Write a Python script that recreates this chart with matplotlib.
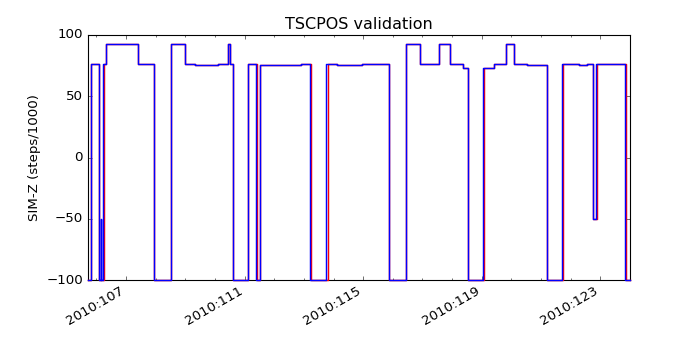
import matplotlib
matplotlib.use("Agg")
import matplotlib.pyplot as plt
from matplotlib.ticker import MultipleLocator, FixedLocator, FuncFormatter

# ── data: day-of-year 2010, step start times and SIM-Z level (steps/1000) ──
blue_t = [105.70, 105.83, 106.09, 106.15, 106.17, 106.22, 106.34, 107.41,
          107.95, 108.51, 108.98, 109.32, 110.09, 110.45, 110.51, 110.61,
          111.12, 111.39, 111.51, 112.90, 113.22, 113.76, 114.12, 114.96,
          115.87, 116.44, 116.92, 117.57, 117.92, 118.35, 118.54, 119.05,
          119.42, 119.82, 120.10, 120.51, 121.19, 121.71, 122.29, 122.55,
          122.74, 122.85, 123.83, 124.00]
blue_v = [-100, 76.5, -100, -50, -100, 76.5, 93, 76.5,
          -100, 93, 76.5, 75.2, 76.5, 93, 76.5, -100,
          76.5, -100, 75.2, 76.5, -100, 76.5, 75.2, 76.5,
          -100, 93, 76.5, 93, 76.5, 73, -100, 73,
          76.5, 93, 76.5, 75.2, -100, 76.5, 75.2, 76.5,
          -50, 76.5, -100, -100]

red_t = [105.70, 105.83, 106.09, 106.25, 106.34, 107.41,
         107.96, 108.51, 108.98, 109.32, 110.09, 110.45, 110.51, 110.61,
         111.13, 111.42, 111.52, 112.90, 113.25, 113.80, 114.12, 114.96,
         115.88, 116.44, 116.92, 117.57, 117.92, 118.35, 118.55, 119.06,
         119.42, 119.82, 120.10, 120.51, 121.21, 121.74, 122.29, 122.55,
         122.75, 122.89, 123.85, 124.00]
red_v = [-100, 76.5, -100, 76.5, 93, 76.5,
         -100, 93, 76.5, 75.2, 76.5, 93, 76.5, -100,
         76.5, -100, 75.2, 76.5, -100, 76.5, 75.2, 76.5,
         -100, 93, 76.5, 93, 76.5, 73, -100, 73,
         76.5, 93, 76.5, 75.2, -100, 76.5, 75.2, 76.5,
         -50, 76.5, -100, -100]

major_days = [107, 111, 115, 119, 123]

plt.style.use("classic")
plt.rcParams["figure.facecolor"] = "white"
plt.rcParams["savefig.facecolor"] = "white"

fig, ax = plt.subplots(figsize=(8.75, 4.375), dpi=80)
ax.step(red_t, red_v, where="post", color="r", lw=1.3, zorder=3, clip_on=False)
ax.step(blue_t, blue_v, where="post", color="b", lw=1.3, zorder=3, clip_on=False)

ax.set_xlim(blue_t[0], blue_t[-1])
ax.set_ylim(-100, 100)
ax.set_yticks([-100, -50, 0, 50, 100])
ax.xaxis.set_major_locator(FixedLocator(major_days))
ax.xaxis.set_minor_locator(MultipleLocator(1))
ax.xaxis.set_major_formatter(FuncFormatter(lambda x, pos: "2010:%03d" % round(x)))

ax.set_title("TSCPOS validation")
ax.set_ylabel("SIM-Z (steps/1000)")
fig.autofmt_xdate()

plt.savefig("out.png", dpi=80)
